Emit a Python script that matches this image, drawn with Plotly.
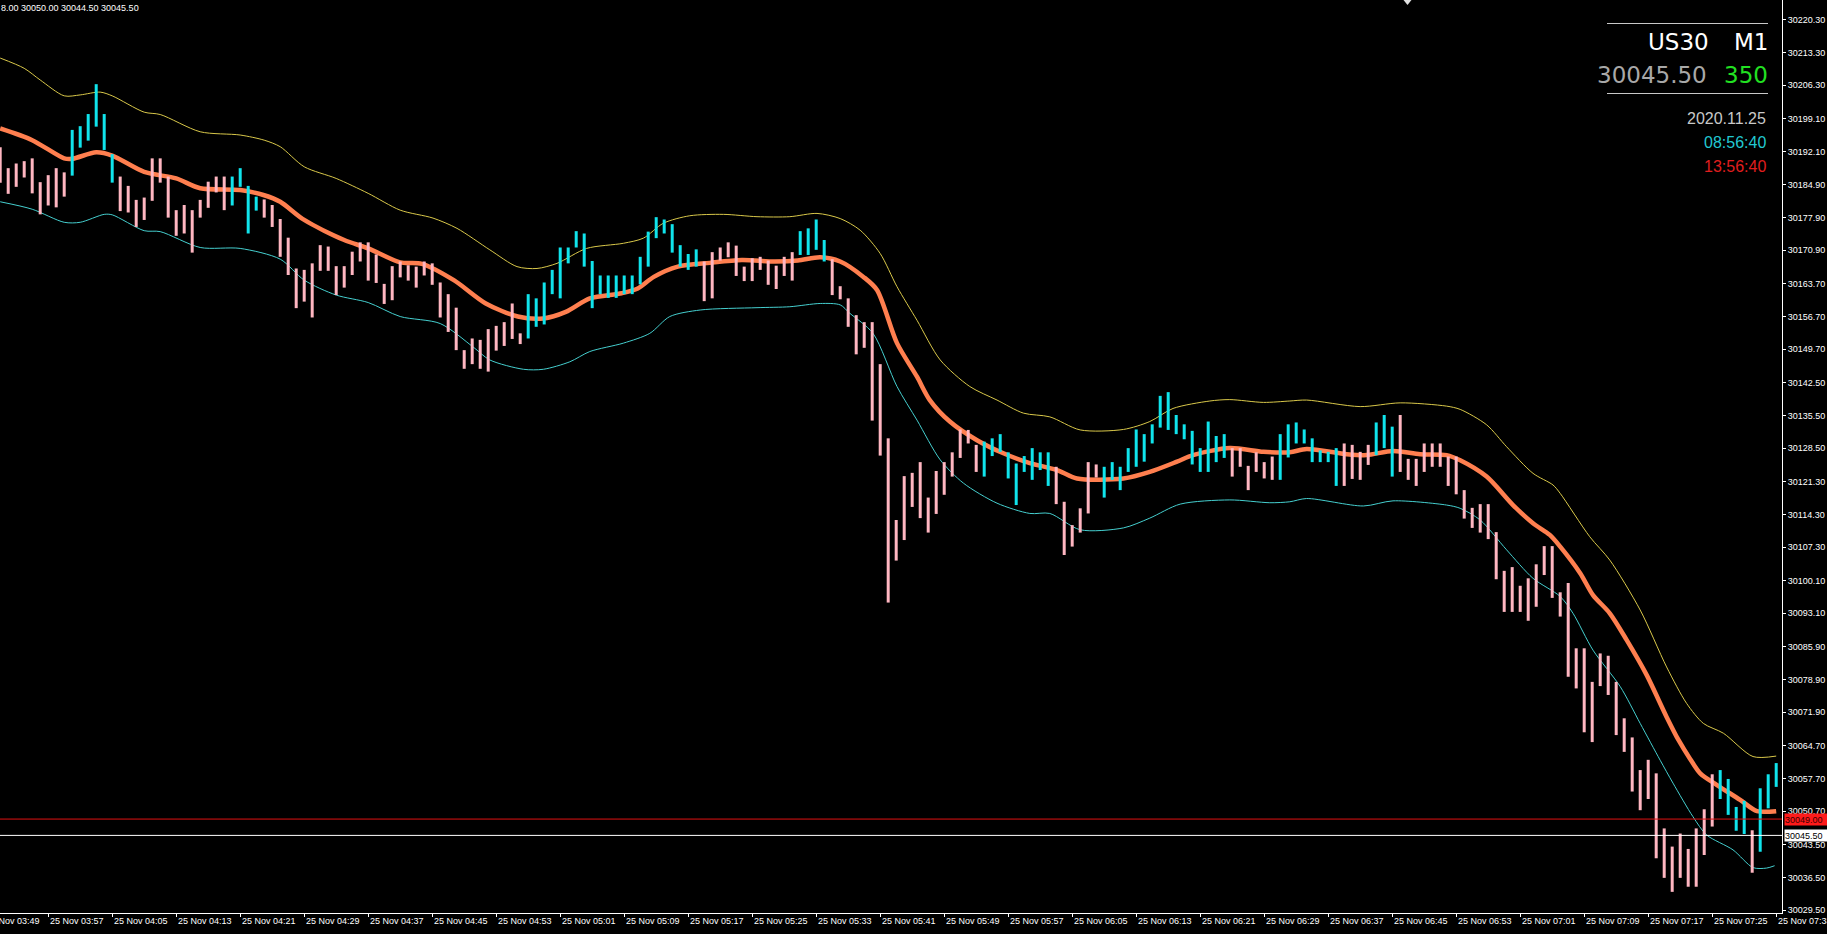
import plotly.graph_objects as go

# ---------------- data ----------------
first_bar_time = "03:51"          # time of bar index 0 (M1 bars)

bar_high = [
    30193.0, 30188.5, 30189.5, 30190.0, 30190.6, 30185.5, 30187.0, 30188.5, 30187.6, 30196.7,
    30197.5, 30200.1, 30206.5, 30200.1, 30191.5, 30186.7, 30184.7, 30181.7, 30182.2, 30190.6,
    30190.6, 30186.7, 30179.5, 30180.6, 30179.5, 30181.7, 30185.6, 30186.7, 30186.7, 30186.7,
    30188.5, 30184.7, 30182.4, 30181.8, 30180.6, 30177.6, 30173.6, 30167.0, 30166.7, 30168.1,
    30172.0, 30171.7, 30167.5, 30167.5, 30170.6, 30172.6, 30172.6, 30170.0, 30163.7, 30167.5,
    30168.5, 30167.7, 30167.4, 30168.5, 30168.1, 30164.0, 30161.5, 30158.6, 30149.5, 30152.0,
    30151.7, 30154.0, 30154.7, 30155.5, 30159.5, 30153.1, 30161.5, 30160.6, 30164.0, 30166.7,
    30171.5, 30171.5, 30175.0, 30174.5, 30168.6, 30165.5, 30165.5, 30165.5, 30165.5, 30165.5,
    30169.5, 30174.9, 30178.0, 30177.5, 30176.5, 30172.0, 30170.1, 30171.1, 30168.5, 30170.5,
    30171.5, 30172.6, 30171.9, 30167.4, 30169.2, 30169.5, 30168.7, 30167.6, 30169.5, 30170.5,
    30175.0, 30175.6, 30177.5, 30173.1, 30169.0, 30163.2, 30160.6, 30157.0, 30155.5, 30155.5,
    30146.5, 30130.6, 30113.1, 30122.5, 30123.2, 30125.5, 30117.9, 30123.6, 30125.5, 30127.6,
    30132.5, 30132.4, 30129.2, 30129.9, 30130.6, 30131.5, 30127.6, 30125.2, 30126.8, 30128.5,
    30127.6, 30127.6, 30124.5, 30117.0, 30112.0, 30115.6, 30125.5, 30125.0, 30124.5, 30125.5,
    30124.5, 30128.5, 30132.5, 30131.5, 30133.6, 30139.7, 30140.5, 30135.6, 30133.6, 30132.2,
    30128.5, 30134.2, 30131.1, 30131.5, 30128.5, 30128.5, 30124.7, 30127.6, 30125.5, 30126.7,
    30131.5, 30133.6, 30134.0, 30132.5, 30130.6, 30128.0, 30127.7, 30128.5, 30129.5, 30129.2,
    30127.7, 30129.2, 30134.0, 30135.6, 30133.1, 30135.6, 30126.2, 30126.2, 30129.5, 30129.5,
    30129.5, 30126.7, 30126.7, 30119.5, 30115.7, 30116.5, 30116.5, 30110.5, 30102.2, 30103.0,
    30099.0, 30100.6, 30103.6, 30107.5, 30107.5, 30097.6, 30099.6, 30085.6, 30085.6, 30078.4,
    30084.5, 30084.0, 30078.4, 30070.6, 30066.5, 30059.5, 30061.7, 30058.8, 30047.0, 30043.1,
    30045.9, 30042.6, 30047.0, 30051.1, 30058.6, 30059.5, 30057.6, 30051.6, 30052.9, 30046.6,
    30055.6, 30058.6, 30061.0,
]
bar_low = [
    30185.4, 30183.0, 30184.5, 30186.5, 30183.1, 30178.6, 30180.5, 30180.1, 30182.4, 30186.9,
    30192.9, 30194.4, 30197.4, 30192.4, 30185.4, 30179.3, 30179.0, 30175.9, 30177.4, 30181.5,
    30185.4, 30177.9, 30174.0, 30174.5, 30170.4, 30177.9, 30180.0, 30183.3, 30179.5, 30180.5,
    30184.5, 30174.5, 30179.4, 30177.9, 30175.9, 30169.5, 30165.6, 30158.5, 30159.9, 30156.5,
    30166.5, 30166.5, 30161.3, 30162.9, 30165.6, 30168.5, 30164.4, 30163.9, 30159.4, 30160.2,
    30165.1, 30164.4, 30162.9, 30165.5, 30163.5, 30156.5, 30153.4, 30149.5, 30145.5, 30146.5,
    30145.5, 30144.9, 30149.4, 30150.4, 30151.9, 30150.8, 30152.0, 30154.5, 30155.0, 30161.5,
    30160.6, 30168.1, 30171.5, 30167.4, 30158.5, 30161.5, 30160.7, 30160.7, 30161.5, 30161.5,
    30163.6, 30167.4, 30173.5, 30174.5, 30170.4, 30167.4, 30166.7, 30167.4, 30160.0, 30160.6,
    30168.7, 30169.4, 30165.4, 30164.3, 30164.3, 30166.7, 30163.5, 30162.6, 30165.4, 30164.4,
    30169.9, 30169.9, 30171.0, 30168.5, 30161.3, 30160.4, 30154.5, 30148.6, 30150.0, 30134.4,
    30126.9, 30095.4, 30104.4, 30108.8, 30115.9, 30113.5, 30110.4, 30114.4, 30118.5, 30122.4,
    30126.4, 30129.5, 30123.4, 30122.4, 30126.8, 30127.7, 30122.0, 30116.3, 30123.4, 30121.7,
    30123.8, 30120.4, 30116.5, 30105.6, 30107.4, 30110.4, 30114.5, 30122.2, 30117.9, 30121.7,
    30119.5, 30123.4, 30124.5, 30125.6, 30129.5, 30132.9, 30132.4, 30131.5, 30130.4, 30125.0,
    30123.4, 30123.4, 30125.5, 30126.4, 30122.4, 30124.5, 30119.5, 30123.4, 30122.0, 30121.7,
    30121.7, 30126.5, 30129.5, 30129.5, 30125.5, 30125.5, 30125.5, 30120.4, 30120.4, 30121.9,
    30121.7, 30124.9, 30127.0, 30128.5, 30122.4, 30123.4, 30121.7, 30120.4, 30123.4, 30124.5,
    30124.5, 30120.4, 30118.6, 30113.4, 30111.4, 30110.4, 30109.0, 30100.4, 30093.4, 30093.4,
    30093.4, 30091.5, 30094.5, 30101.3, 30096.4, 30092.4, 30079.5, 30077.0, 30067.6, 30065.5,
    30077.5, 30075.6, 30067.0, 30063.4, 30054.9, 30050.9, 30053.3, 30040.6, 30036.4, 30033.4,
    30036.4, 30034.5, 30034.5, 30041.3, 30047.4, 30053.3, 30049.9, 30046.5, 30045.8, 30037.5,
    30042.0, 30051.3, 30055.9,
]
# 1 = bullish bar (aqua), 0 = bearish bar (pink)
bar_up = [
    0, 0, 0, 0, 0, 0, 0, 0, 0, 1, 1, 1, 1, 1, 1, 0, 0, 0, 0, 0,
    0, 0, 0, 0, 0, 0, 0, 0, 0, 1, 1, 1, 1, 0, 0, 0, 0, 0, 0, 0,
    0, 0, 0, 0, 0, 0, 0, 0, 0, 0, 0, 0, 0, 0, 0, 0, 0, 0, 0, 0,
    0, 0, 0, 0, 0, 0, 1, 1, 1, 1, 1, 1, 1, 1, 1, 1, 1, 1, 1, 1,
    1, 1, 1, 1, 1, 1, 1, 1, 0, 0, 0, 0, 0, 0, 0, 0, 0, 0, 0, 0,
    1, 1, 1, 1, 0, 0, 0, 0, 0, 0, 0, 0, 0, 0, 0, 0, 0, 0, 0, 0,
    0, 0, 0, 1, 1, 1, 1, 1, 1, 1, 1, 1, 0, 0, 0, 0, 0, 0, 1, 1,
    1, 1, 1, 1, 1, 1, 1, 1, 1, 1, 1, 1, 1, 1, 0, 0, 0, 0, 0, 0,
    1, 1, 1, 1, 1, 1, 1, 1, 0, 0, 0, 0, 1, 1, 1, 0, 0, 0, 0, 0,
    0, 0, 0, 0, 0, 0, 0, 0, 0, 0, 0, 0, 0, 0, 0, 0, 0, 0, 0, 0,
    0, 0, 0, 0, 0, 0, 0, 0, 0, 0, 0, 0, 0, 0, 0, 1, 1, 1, 1, 0,
    1, 1, 1,
]

# moving average (orange) read at bar positions
ma_idx = [0, 4, 8, 9, 12, 14, 18, 22, 25, 30, 33, 35, 38, 43, 46, 50, 52.7, 56.7, 60.7, 64.7,
          67.9, 70.7, 73.7, 77.7, 79.7, 81.7, 84.7, 88.7, 92.7, 96.7, 99.7, 102.5, 105, 107.9,
          109.6, 112.1, 114.6, 116.2, 118.7, 122.1, 125.4, 128.7, 132.1, 134.6, 140.4, 143.7,
          147.1, 149.1, 153.7, 157.9, 161.2, 163.3, 168.3, 170.8, 174.1, 177.5, 180.8, 182.5,
          185.8, 189.1, 191.6, 193.7, 195, 197.5, 199.1, 201.2, 203.3, 205.8, 208.3, 209.8,
          211.2, 212.5, 214.6, 217.5, 219.6, 222]
ma_val = [30197.0, 30194.5, 30190.6, 30190.5, 30191.9, 30191.2, 30187.7, 30186.3, 30184.2, 30183.8,
          30182.7, 30181.3, 30177.4, 30173.1, 30171.3, 30168.3, 30168.0, 30164.5, 30159.5, 30156.7,
          30156.3, 30157.7, 30160.6, 30161.7, 30162.7, 30165.2, 30167.4, 30168.2, 30168.8, 30168.5,
          30168.7, 30169.4, 30168.5, 30165.2, 30162.4, 30151.0, 30143.8, 30138.8, 30134.2, 30130.2,
          30127.4, 30125.3, 30123.8, 30122.0, 30122.0, 30123.4, 30125.6, 30127.0, 30128.5, 30127.7,
          30127.6, 30128.3, 30127.2, 30127.0, 30127.9, 30127.2, 30127.0, 30125.9, 30122.4, 30116.3,
          30112.4, 30109.9, 30107.4, 30101.7, 30097.0, 30093.1, 30087.4, 30079.9, 30070.9, 30065.9,
          30062.0, 30058.8, 30056.3, 30053.1, 30050.7, 30050.7]

# upper band (yellow)
up_idx = [0, 3, 5, 8, 10, 12.5, 14, 18, 20, 25, 30, 33, 35, 38, 42, 46, 50, 54.1, 57.1, 61.2,
          64.6, 67.1, 69.6, 73.3, 77.9, 80.4, 82.9, 86.2, 90.4, 94.6, 98.7, 102.1, 105, 107.5,
          110, 112.1, 114.6, 117.5, 121.2, 124.6, 127.9, 131.2, 135, 140.4, 143.7, 146.6, 151.2,
          153.7, 157.9, 161.2, 163.3, 170, 175, 180.8, 182.5, 185.8, 188.3, 191.6, 194.1, 195,
          198.7, 201.2, 205, 208.3, 210.8, 212.9, 215.4, 219.1, 222]
up_val = [30212.1, 30209.9, 30207.4, 30204.0, 30204.2, 30204.8, 30204.0, 30200.5, 30200.0, 30196.3,
          30195.6, 30194.5, 30193.1, 30188.8, 30186.3, 30183.1, 30179.5, 30177.8, 30175.6, 30171.0,
          30167.4, 30167.0, 30168.1, 30171.3, 30172.4, 30173.5, 30176.7, 30178.3, 30178.6, 30178.1,
          30178.1, 30178.8, 30177.7, 30175.2, 30170.2, 30163.1, 30155.9, 30147.4, 30141.7, 30138.8,
          30136.0, 30135.2, 30132.4, 30132.5, 30134.2, 30137.0, 30138.6, 30138.9, 30138.3, 30138.6,
          30138.8, 30137.4, 30138.2, 30137.5, 30136.8, 30133.5, 30128.8, 30123.1, 30120.6, 30118.8,
          30109.5, 30104.5, 30093.8, 30081.6, 30073.8, 30069.5, 30067.4, 30062.4, 30062.5]

# lower band (turquoise)
lo_idx = [0, 4, 8, 10, 13, 14, 18, 20, 25, 30, 35, 38, 42, 46, 50, 55, 59.1, 61.2, 65.4, 67.9,
          71.2, 73.7, 77.9, 81.2, 83.7, 87.5, 94.6, 98.7, 102.5, 105, 106.2, 109.1, 112.1, 114.6,
          117.5, 120.4, 124.6, 128.7, 131.2, 135, 140.4, 143.7, 147.5, 153.7, 158.7, 161.2, 163.3,
          170.4, 174.1, 180.8, 182.5, 185, 188.3, 191.6, 195, 196.6, 199.1, 202.5, 205, 207.5,
          209.1, 211.6, 213.3, 216.6, 219.1, 220.8, 221.8]
lo_val = [30181.3, 30179.7, 30176.9, 30176.9, 30178.6, 30178.5, 30175.1, 30174.9, 30171.5, 30171.3,
          30169.0, 30164.5, 30161.3, 30159.7, 30156.7, 30155.2, 30150.2, 30147.4, 30145.4, 30145.4,
          30147.0, 30149.2, 30151.0, 30153.1, 30156.7, 30158.1, 30158.6, 30158.8, 30159.5, 30159.2,
          30157.4, 30153.1, 30141.7, 30134.5, 30126.0, 30121.0, 30116.7, 30114.5, 30114.5, 30111.0,
          30111.4, 30113.5, 30116.5, 30117.4, 30116.8, 30117.0, 30117.7, 30116.1, 30117.2, 30116.3,
          30115.6, 30113.1, 30106.7, 30100.6, 30096.7, 30093.1, 30085.2, 30077.4, 30069.5, 30061.6,
          30056.7, 30049.5, 30045.6, 30042.4, 30038.6, 30038.5, 30039.0]

time_tick_labels = [
    "25 Nov 03:49", "25 Nov 03:57", "25 Nov 04:05", "25 Nov 04:13", "25 Nov 04:21", "25 Nov 04:29",
    "25 Nov 04:37", "25 Nov 04:45", "25 Nov 04:53", "25 Nov 05:01", "25 Nov 05:09", "25 Nov 05:17",
    "25 Nov 05:25", "25 Nov 05:33", "25 Nov 05:41", "25 Nov 05:49", "25 Nov 05:57", "25 Nov 06:05",
    "25 Nov 06:13", "25 Nov 06:21", "25 Nov 06:29", "25 Nov 06:37", "25 Nov 06:45", "25 Nov 06:53",
    "25 Nov 07:01", "25 Nov 07:09", "25 Nov 07:17", "25 Nov 07:25", "25 Nov 07:33",
]
price_ticks = [30220.30, 30213.30, 30206.30, 30199.10, 30192.10, 30184.90, 30177.90, 30170.90,
               30163.70, 30156.70, 30149.70, 30142.50, 30135.50, 30128.50, 30121.30, 30114.30,
               30107.30, 30100.10, 30093.10, 30085.90, 30078.90, 30071.90, 30064.70, 30057.70,
               30050.70, 30043.50, 30036.50, 30029.50]

ohlc_text = "8.00 30050.00 30044.50 30045.50"
bid_price = 30045.50
red_line_price = 30049.00
symbol, timeframe = "US30", "M1"
spread_text = "350"
date_text = "2020.11.25"
local_time = "08:56:40"
server_time = "13:56:40"

y_range = [30028.87, 30224.54]
x_range = [-0.025, 222.725]

# ---------------- helpers ----------------
def minutes(hhmm):
    h, m = hhmm.split(":")
    return int(h) * 60 + int(m)

t0 = minutes(first_bar_time)
tick_idx = [minutes(lbl.split(" ")[-1]) - t0 for lbl in time_tick_labels]


def to_paper_x(v):
    return (v - x_range[0]) / (x_range[1] - x_range[0])


def segments(flag):
    xs, ys = [], []
    for i, (h, l, u) in enumerate(zip(bar_high, bar_low, bar_up)):
        if u == flag:
            xs += [i, i, None]
            ys += [l, h, None]
    return xs, ys


PINK = "#FFB6C1"
AQUA = "#10E4EC"

fig = go.Figure()
fig.add_trace(go.Scatter(x=up_idx, y=up_val, mode="lines",
                         line=dict(color="#D9C84A", width=1, shape="spline", smoothing=0.8)))
fig.add_trace(go.Scatter(x=lo_idx, y=lo_val, mode="lines",
                         line=dict(color="#45CFCF", width=1, shape="spline", smoothing=0.8)))
fig.add_trace(go.Scatter(x=ma_idx, y=ma_val, mode="lines",
                         line=dict(color="#FF7F4F", width=4.5, shape="spline", smoothing=0.8)))
xd, yd = segments(0)
fig.add_trace(go.Scatter(x=xd, y=yd, mode="lines", line=dict(color=PINK, width=3)))
xu, yu = segments(1)
fig.add_trace(go.Scatter(x=xu, y=yu, mode="lines", line=dict(color=AQUA, width=3)))

FONT = "Liberation Sans"
annotations = []
for idx, lbl in zip(tick_idx, time_tick_labels):
    annotations.append(dict(x=to_paper_x(idx), xref="paper", y=0, yref="paper",
                            xanchor="left", yanchor="top",
                            xshift=0, yshift=-1, text=lbl, showarrow=False,
                            font=dict(family=FONT, size=9, color="#FFFFFF")))

annotations.append(dict(x=0, xref="paper", y=1, yref="paper", xanchor="left", yanchor="top",
                        xshift=-1, yshift=-1, text=ohlc_text, showarrow=False,
                        font=dict(family=FONT, size=9, color="#FFFFFF")))

# price labels on the right scale
annotations.append(dict(x=1, xref="paper", y=red_line_price, yref="y", xanchor="left", yanchor="middle",
                        xshift=2, text=f"{red_line_price:.2f}", showarrow=False, bgcolor="#FF1A1A",
                        borderpad=0, width=44, height=11, align="left",
                        font=dict(family=FONT, size=9, color="#3A0000")))
annotations.append(dict(x=1, xref="paper", y=bid_price, yref="y", xanchor="left", yanchor="middle",
                        xshift=2, text=f"{bid_price:.2f}", showarrow=False, bgcolor="#FFFFFF",
                        borderpad=0, width=44, height=11, align="left",
                        font=dict(family=FONT, size=9, color="#000000")))

# info panel (top right)
def info(text, right_px, center_px, size, color, family):
    return dict(x=1, xref="paper", y=1, yref="paper", xanchor="right", yanchor="middle",
                xshift=right_px, yshift=-center_px, text=text, showarrow=False,
                font=dict(family=family, size=size, color=color))

annotations += [
    info(symbol, -71, 42, 23, "#FFFFFF", "DejaVu Sans"),
    info(timeframe, -12, 42, 23, "#FFFFFF", "DejaVu Sans"),
    info(f"{bid_price:.2f}", -73, 75, 23, "#A8A8A8", "DejaVu Sans"),
    info(spread_text, -12, 75, 23, "#22E022", "DejaVu Sans"),
    info(date_text, -14, 118, 16, "#C8C8C8", FONT),
    info(local_time, -14, 142, 16, "#22C8D2", FONT),
    info(server_time, -14, 166, 16, "#E01E1E", FONT),
]

PW, PH = 1782.0, 913.0
shapes = [
    dict(type="line", xref="paper", yref="y", x0=0, x1=1, y0=red_line_price, y1=red_line_price,
         line=dict(color="#E01010", width=1)),
    dict(type="line", xref="paper", yref="y", x0=0, x1=1, y0=bid_price, y1=bid_price,
         line=dict(color="#FFFFFF", width=1)),
    dict(type="line", xref="paper", yref="paper", x0=1607 / PW, x1=1768 / PW,
         y0=1 - 23.5 / PH, y1=1 - 23.5 / PH, line=dict(color="#C8C8C8", width=1)),
    dict(type="line", xref="paper", yref="paper", x0=1607 / PW, x1=1768 / PW,
         y0=1 - 93.5 / PH, y1=1 - 93.5 / PH, line=dict(color="#C8C8C8", width=1)),
    dict(type="path", xref="paper", yref="paper",
         path=f"M {1403.5/PW},{1} L {1411.5/PW},{1} L {1407.5/PW},{1-5/PH} Z",
         fillcolor="#E0E0E0", line=dict(width=0)),
]

fig.update_layout(
    template="none",
    width=1827, height=934,
    margin=dict(l=0, r=45, t=0, b=21, pad=0, autoexpand=False),
    paper_bgcolor="#000000", plot_bgcolor="#000000",
    showlegend=False, hovermode=False,
    font=dict(family=FONT, size=9, color="#FFFFFF"),
    xaxis=dict(range=x_range, showgrid=False, zeroline=False, showline=True, automargin=False,
               linecolor="#FFFFFF", linewidth=1, ticks="outside", ticklen=3,
               tickcolor="#FFFFFF", tickwidth=1, tickvals=tick_idx, showticklabels=False,
               fixedrange=True),
    yaxis=dict(side="right", range=y_range, showgrid=False, zeroline=False, showline=True,
               automargin=False,
               linecolor="#FFFFFF", linewidth=1, ticks="outside", ticklen=3,
               tickcolor="#FFFFFF", tickwidth=1, tickvals=price_ticks, tickformat=".2f",
               tickfont=dict(family=FONT, size=9, color="#FFFFFF"), fixedrange=True),
    annotations=annotations,
    shapes=shapes,
)

fig.write_html("out.html", config={"displayModeBar": False},
               post_script="document.body.style.margin='0';document.body.style.background='#000';")
